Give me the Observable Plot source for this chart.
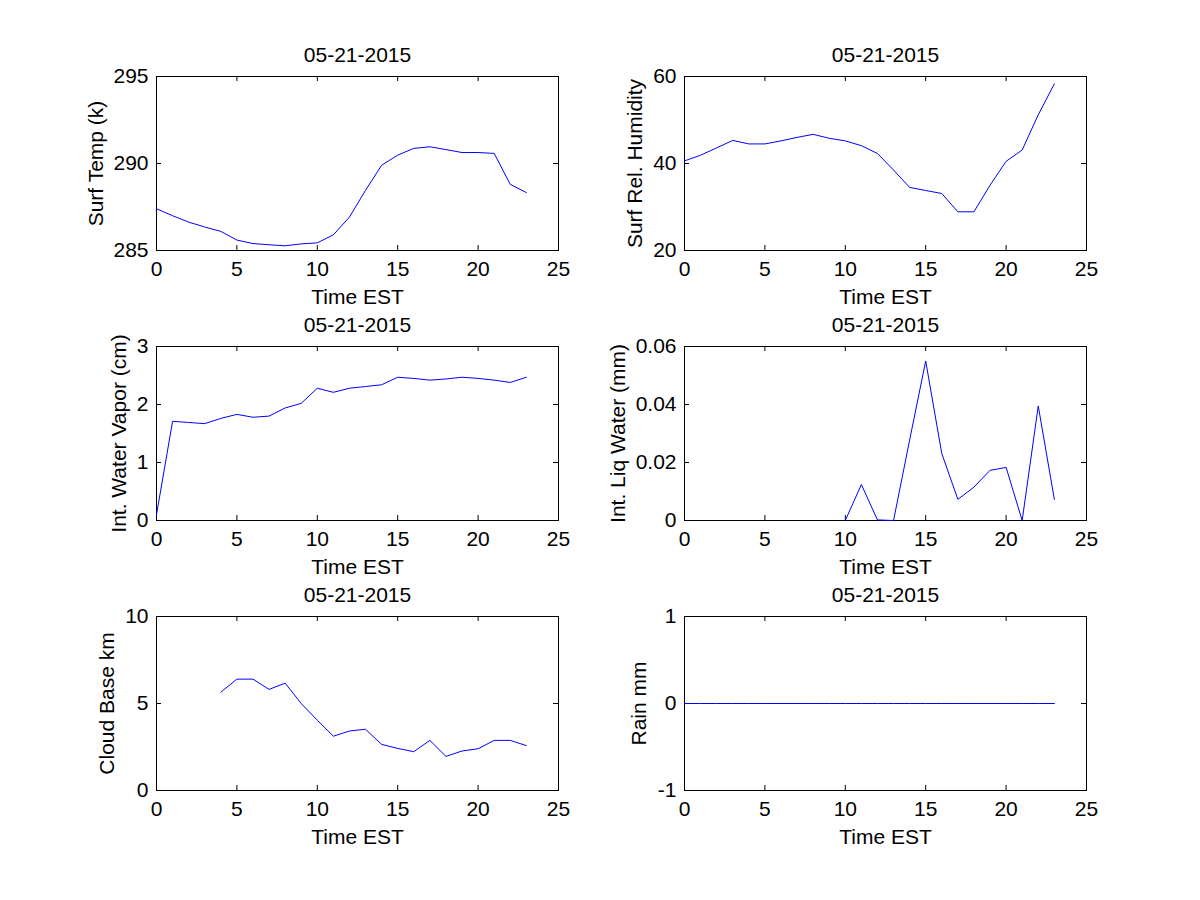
<!DOCTYPE html>
<html><head><meta charset="utf-8">
<script src="https://cdn.jsdelivr.net/npm/d3@7"></script>
<script src="https://cdn.jsdelivr.net/npm/@observablehq/plot@0.6"></script>
<style>
body{margin:0;background:#fff;}
#fig{position:relative;width:1200px;height:900px;background:#fff;overflow:hidden;}
</style></head><body><div id="fig"></div>
<script>
// ---- data ----
const hours = [0,1,2,3,4,5,6,7,8,9,10,11,12,13,14,15,16,17,18,19,20,21,22,23];
const dateLabel = "05-21-2015";
const xLabel = "Time EST";
const xTicks = [0,5,10,15,20,25];

const surfTemp = [287.40,287.00,286.63,286.35,286.10,285.60,285.40,285.33,285.27,285.38,285.44,285.90,286.92,288.46,289.90,290.48,290.87,290.96,290.80,290.63,290.63,290.58,288.80,288.33];
const surfRH = [40.6,41.9,43.6,45.3,44.5,44.5,45.2,46.0,46.7,45.8,45.2,44.1,42.3,38.5,34.5,33.8,33.1,28.9,28.9,35.0,40.5,43.1,51.2,58.3];
const waterVapor = [0.10,1.71,1.69,1.67,1.76,1.83,1.78,1.80,1.94,2.02,2.28,2.21,2.28,2.31,2.34,2.47,2.45,2.42,2.44,2.47,2.45,2.42,2.38,2.47];
const liqWater = [NaN,NaN,NaN,NaN,NaN,NaN,NaN,NaN,NaN,NaN,0,0.0124,0.0002,0,0.0277,0.0550,0.0231,0.0073,0.0115,0.0173,0.0183,0,0.0395,0.0073];
const cloudBase = [NaN,NaN,NaN,NaN,5.65,6.40,6.40,5.81,6.17,5.00,4.04,3.12,3.42,3.52,2.65,2.42,2.23,2.88,1.96,2.27,2.40,2.88,2.88,2.58];
const rain = [0,0,0,0,0,0,0,0,0,0,0,0,0,0,0,0,0,0,0,0,0,0,0,0];

const yLabels = ["Surf Temp (k)","Surf Rel. Humidity","Int. Water Vapor (cm)","Int. Liq Water (mm)","Cloud Base km","Rain mm"];
const yTickSets = [[285,290,295],[20,40,60],[0,1,2,3],[0,0.02,0.04,0.06],[0,5,10],[-1,0,1]];
const series = [surfTemp, surfRH, waterVapor, liqWater, cloudBase, rain];

// ---- layout ----
const PW = 402, PH = 174;
const rows = [{top:0,height:309,mt:76},{top:309,height:270,mt:37},{top:579,height:321,mt:37}];
const cols = [{left:0,ml:156},{left:600,ml:84}];
const labelDx = [-54,-43,-31,-60,-43,-39];
const font = "'Liberation Sans', Arial, Helvetica, sans-serif";
const FS = 21;

const fig = document.getElementById("fig");
series.forEach((vals, i) => {
  const row = rows[Math.floor(i/2)], col = cols[i%2];
  const yt = yTickSets[i];
  const data = hours.map((h, k) => ({h, v: vals[k]}));
  const svg = Plot.plot({
    width: 600, height: row.height,
    marginLeft: col.ml, marginRight: 600 - col.ml - PW,
    marginTop: row.mt, marginBottom: row.height - row.mt - PH,
    x: {domain: [0,25]},
    y: {domain: [yt[0], yt[yt.length-1]]},
    style: {background: "transparent", fontFamily: font, fontSize: FS + "px", color: "black", overflow: "visible"},
    marks: [
      Plot.frame({stroke: "black"}),
      Plot.tickX(xTicks, {x: d => d, insetTop: PH - 5, stroke: "black"}),
      Plot.tickX(xTicks, {x: d => d, insetBottom: PH - 5, stroke: "black"}),
      Plot.tickY(yt, {y: d => d, insetRight: PW - 5, stroke: "black"}),
      Plot.tickY(yt, {y: d => d, insetLeft: PW - 5, stroke: "black"}),
      Plot.axisX({ticks: xTicks, tickSize: 0, tickPadding: 11, fontSize: FS, label: null, tickFormat: d => String(d)}),
      Plot.axisY({ticks: yt, tickSize: 0, tickPadding: 8, fontSize: FS, label: null, tickFormat: d => String(d)}),
      Plot.line(data, {x: "h", y: "v", stroke: "#0000ff", strokeWidth: 1}),
      Plot.text([dateLabel], {text: d => d, frameAnchor: "top", lineAnchor: "bottom", dy: -15, fontSize: FS, fill: "black"}),
      Plot.text([xLabel], {text: d => d, frameAnchor: "bottom", lineAnchor: "bottom", dy: 53, fontSize: FS, fill: "black"}),
      Plot.text([yLabels[i]], {text: d => d, frameAnchor: "left", textAnchor: "middle", rotate: -90, lineAnchor: "bottom", dx: labelDx[i], fontSize: FS, fill: "black"})
    ]
  });
  svg.style.position = "absolute";
  svg.style.left = col.left + "px";
  svg.style.top = row.top + "px";
  fig.appendChild(svg);
});
</script></body></html>
